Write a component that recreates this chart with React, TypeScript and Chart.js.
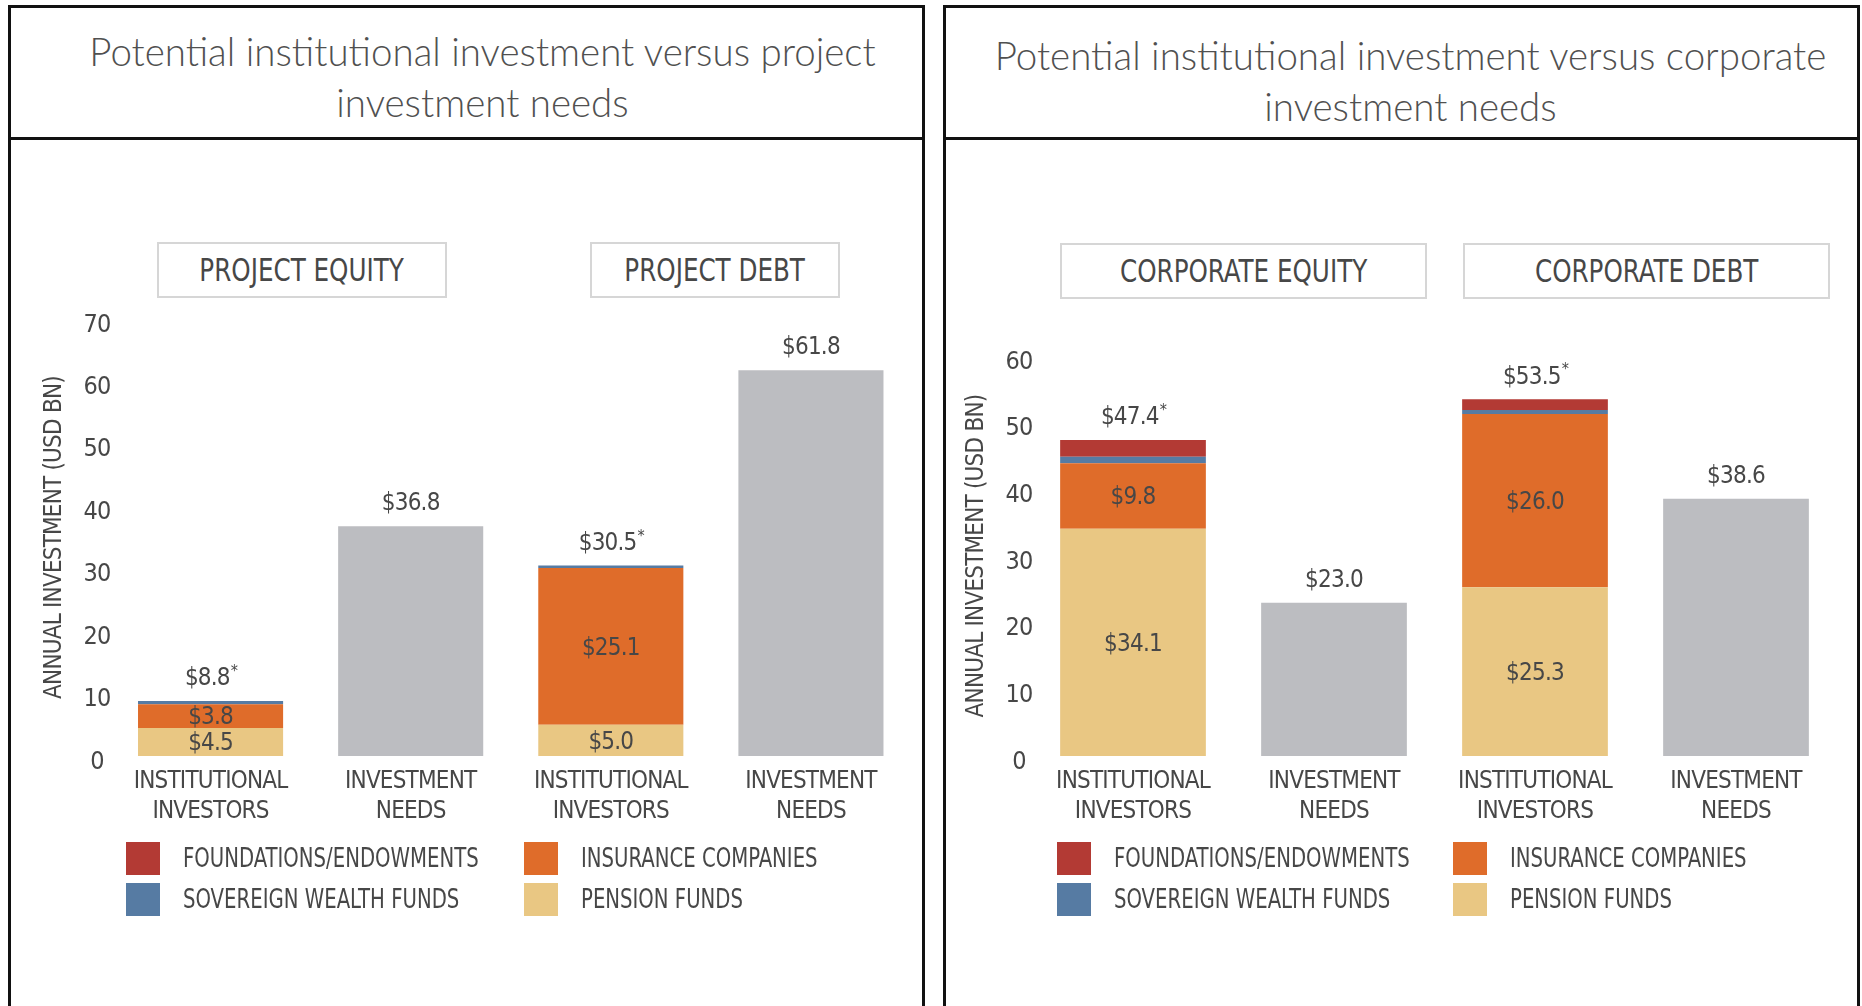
import React, { useEffect, useRef } from 'react';
import { Chart, registerables } from 'chart.js';

Chart.register(...registerables);

const NARROW = "'DejaVu Sans Condensed', 'DejaVu Sans', sans-serif";
const TEXT = '#474747';
const LETTER_SPACING = '-0.8px';

// ---- data ----
const seriesNames = ['PENSION FUNDS', 'INSURANCE COMPANIES', 'SOVEREIGN WEALTH FUNDS', 'FOUNDATIONS/ENDOWMENTS'];
const seriesColors = ['#E9C783', '#DF6C2A', '#567BA3', '#B33A34'];
const needsName = 'INVESTMENT NEEDS';
const needsColor = '#BCBDC1';
const inBarLabelSeries = [true, true, false, false];

const categories = [
  ['INSTITUTIONAL', 'INVESTORS'],
  ['INVESTMENT', 'NEEDS'],
  ['INSTITUTIONAL', 'INVESTORS'],
  ['INVESTMENT', 'NEEDS'],
];
const starredTotals = [true, false, true, false];

const projectPension = [4.5, null, 5.0, null];
const projectInsurance = [3.8, null, 25.1, null];
const projectSovereign = [0.5, null, 0.4, null];
const projectFoundations = [0, null, 0, null];
const projectNeeds = [null, 36.8, null, 61.8];
const projectYMax = 70;
const projectGroups = ['PROJECT EQUITY', 'PROJECT DEBT'];
const projectTitle = ['Potential institutional investment versus project', 'investment needs'];

const corporatePension = [34.1, null, 25.3, null];
const corporateInsurance = [9.8, null, 26.0, null];
const corporateSovereign = [1.0, null, 0.6, null];
const corporateFoundations = [2.5, null, 1.6, null];
const corporateNeeds = [null, 23.0, null, 38.6];
const corporateYMax = 60;
const corporateGroups = ['CORPORATE EQUITY', 'CORPORATE DEBT'];
const corporateTitle = ['Potential institutional investment versus corporate', 'investment needs'];

const yTickStep = 10;
const yTitle = 'ANNUAL INVESTMENT (USD BN)';

// legend order (column-major: left column then right column)
const legendOrder = [3, 2, 1, 0];

const spacingPlugin = {
  id: 'narrowSpacing',
  beforeInit(chart: any) {
    chart.ctx.letterSpacing = LETTER_SPACING;
  },
  beforeLayout(chart: any) {
    chart.ctx.letterSpacing = LETTER_SPACING;
  },
  beforeDraw(chart: any) {
    chart.ctx.letterSpacing = LETTER_SPACING;
  },
};

const valueLabelPlugin = {
  id: 'valueLabels',
  afterDatasetsDraw(chart: any) {
    const { ctx } = chart;
    ctx.save();
    ctx.fillStyle = TEXT;
    ctx.textBaseline = 'middle';
    const n = chart.data.labels.length;
    for (let i = 0; i < n; i++) {
      let total = 0;
      let top = Infinity;
      let x = 0;
      chart.data.datasets.forEach((ds: any, di: number) => {
        const v = ds.data[i];
        if (v == null) return;
        total += v;
        const el = chart.getDatasetMeta(di).data[i];
        x = el.x;
        top = Math.min(top, el.y);
        if (ds.inBarLabel && v > 0) {
          ctx.font = `24px ${NARROW}`;
          ctx.textAlign = 'center';
          ctx.fillText('$' + v.toFixed(1), el.x, (el.y + el.base) / 2 + 2);
        }
      });
      const main = '$' + total.toFixed(1);
      ctx.font = `24px ${NARROW}`;
      const w1 = ctx.measureText(main).width;
      let w2 = 0;
      if (starredTotals[i]) {
        ctx.font = `16px ${NARROW}`;
        w2 = ctx.measureText('*').width;
      }
      const start = x - (w1 + w2) / 2;
      const cy = top - 22;
      ctx.textAlign = 'left';
      ctx.font = `24px ${NARROW}`;
      ctx.fillText(main, start, cy);
      if (starredTotals[i]) {
        ctx.font = `16px ${NARROW}`;
        ctx.fillText('*', start + w1 + 1, cy - 7);
      }
    }
    ctx.restore();
  },
};

type PanelProps = {
  left: number;
  title: string[];
  titleTop: number;
  titleShift: number;
  groups: string[];
  groupBoxes: { left: number; width: number }[];
  groupTop: number;
  series: (number | null)[][];
  needs: (number | null)[];
  yMax: number;
  padding: { left: number; right: number; top: number; bottom: number };
  yWidth: number;
  canvasLeft: number;
  canvasWidth: number;
  legendCols: number[];
};

function Panel(p: PanelProps) {
  const ref = useRef<HTMLCanvasElement | null>(null);
  useEffect(() => {
    if (!ref.current) return;
    const datasets: any[] = p.series.map((d, k) => ({
      label: seriesNames[k],
      data: d,
      backgroundColor: seriesColors[k],
      borderWidth: 0,
      inBarLabel: inBarLabelSeries[k],
    }));
    datasets.push({ label: needsName, data: p.needs, backgroundColor: needsColor, borderWidth: 0, inBarLabel: false });
    const chart = new Chart(ref.current, {
      type: 'bar',
      data: { labels: categories, datasets },
      options: {
        animation: false,
        responsive: false,
        maintainAspectRatio: false,
        devicePixelRatio: 1,
        layout: { padding: p.padding },
        datasets: { bar: { categoryPercentage: 1, barPercentage: 0.725 } },
        plugins: { legend: { display: false }, tooltip: { enabled: false }, title: { display: false } },
        scales: {
          x: {
            stacked: true,
            grid: { display: false, drawTicks: false, tickLength: 0 },
            border: { display: false },
            ticks: {
              color: TEXT,
              font: { family: NARROW, size: 24, lineHeight: '30px' } as any,
              padding: 11,
              maxRotation: 0,
              autoSkip: false,
            },
            afterFit: (s: any) => {
              s.height = 70;
            },
          },
          y: {
            stacked: true,
            min: 0,
            max: p.yMax,
            grid: { display: false, drawTicks: false, tickLength: 0 },
            border: { display: false },
            ticks: {
              stepSize: yTickStep,
              color: TEXT,
              font: { family: NARROW, size: 25, lineHeight: '12px' } as any,
              padding: 0,
              crossAlign: 'center',
              callback: (v: any) => ['', String(v)],
            },
            title: {
              display: true,
              text: yTitle,
              color: TEXT,
              font: { family: NARROW, size: 24 },
              padding: 0,
            },
            afterFit: (s: any) => {
              s.width = p.yWidth;
            },
          },
        },
      } as any,
      plugins: [spacingPlugin, valueLabelPlugin],
    });
    return () => chart.destroy();
  }, []);

  return (
    <>
      <div
        style={{
          position: 'absolute',
          left: p.left,
          top: 5,
          width: 917,
          height: 1020,
          border: '3px solid #111',
          boxSizing: 'border-box',
        }}
      >
        <div style={{ position: 'absolute', left: 0, right: 0, top: 129, height: 3, background: '#111' }} />
        <div
          style={{
            position: 'absolute',
            left: 0,
            right: 0,
            top: p.titleTop,
            textAlign: 'center',
            fontFamily: "Lato, 'Open Sans', sans-serif",
            fontWeight: 300,
            fontSize: 38.5,
            lineHeight: '51px',
            color: '#505050',
            whiteSpace: 'nowrap',
            transform: `translateX(${p.titleShift}px)`,
          }}
        >
          {p.title.map((t, i) => (
            <div key={i}>{t}</div>
          ))}
        </div>
      </div>
      {p.groups.map((g, i) => (
        <div
          key={g}
          style={{
            position: 'absolute',
            left: p.groupBoxes[i].left,
            top: p.groupTop,
            width: p.groupBoxes[i].width,
            height: 56,
            border: '2px solid #d6d6d6',
            boxSizing: 'border-box',
            display: 'flex',
            alignItems: 'center',
            justifyContent: 'center',
            fontFamily: NARROW,
            fontSize: 32,
            color: TEXT,
            whiteSpace: 'nowrap',
          }}
        >
          <span style={{ display: 'inline-block', transform: 'scaleX(0.855)', transformOrigin: 'center' }}>{g}</span>
        </div>
      ))}
      <canvas
        ref={ref}
        width={p.canvasWidth}
        height={864}
        style={{ position: 'absolute', left: p.canvasLeft, top: 142, width: p.canvasWidth, height: 864 }}
      />
      {legendOrder.map((k, j) => {
        const col = Math.floor(j / 2);
        const row = j % 2;
        return (
          <div
            key={k}
            style={{
              position: 'absolute',
              left: p.legendCols[col],
              top: 841 + row * 41,
              height: 34,
              display: 'flex',
              alignItems: 'center',
              fontFamily: NARROW,
              fontSize: 26,
              color: TEXT,
              whiteSpace: 'nowrap',
            }}
          >
            <div style={{ width: 34, height: 33, background: seriesColors[k], marginRight: 23, flex: 'none' }} />
            <span style={{ display: 'inline-block', transform: 'scaleX(0.842)', transformOrigin: 'left center' }}>
              {seriesNames[k]}
            </span>
          </div>
        );
      })}
    </>
  );
}

export default function App() {
  return (
    <div
      style={{
        position: 'absolute',
        left: 0,
        top: 0,
        width: 1862,
        height: 1006,
        overflow: 'hidden',
        background: '#fff',
      }}
    >
      <Panel
        left={8}
        title={projectTitle}
        titleTop={18}
        titleShift={16}
        groups={projectGroups}
        groupBoxes={[
          { left: 157, width: 290 },
          { left: 590, width: 250 },
        ]}
        groupTop={242}
        series={[projectPension, projectInsurance, projectSovereign, projectFoundations]}
        needs={projectNeeds}
        yMax={projectYMax}
        padding={{ left: 28, right: 10, top: 177, bottom: 180 }}
        yWidth={70.5}
        canvasLeft={12}
        canvasWidth={909}
        legendCols={[126, 524]}
      />
      <Panel
        left={943}
        title={corporateTitle}
        titleTop={22}
        titleShift={9}
        groups={corporateGroups}
        groupBoxes={[
          { left: 1060, width: 367 },
          { left: 1463, width: 367 },
        ]}
        groupTop={243}
        series={[corporatePension, corporateInsurance, corporateSovereign, corporateFoundations]}
        needs={corporateNeeds}
        yMax={corporateYMax}
        padding={{ left: 15, right: 18.5, top: 214, bottom: 180 }}
        yWidth={70.5}
        canvasLeft={947}
        canvasWidth={908}
        legendCols={[1057, 1453]}
      />
    </div>
  );
}
